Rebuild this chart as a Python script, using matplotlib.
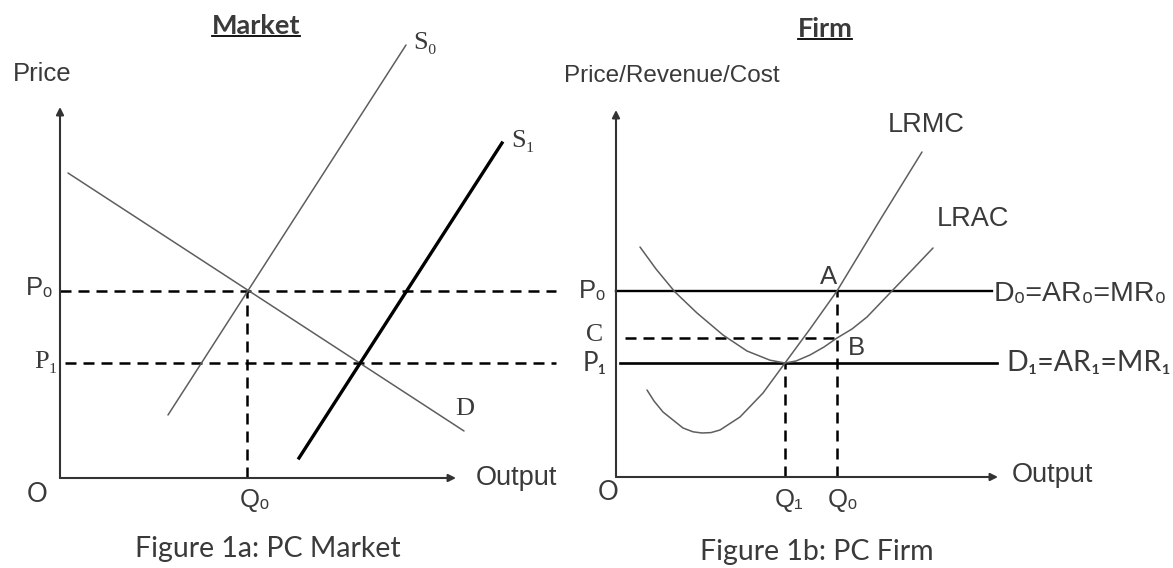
import matplotlib.pyplot as plt
from matplotlib.lines import Line2D

# Figure 1a: market
market_p = [4.675, 2.875]          # P0, P1
market_q0 = 4.675
supply0_x = [2.7, 8.65]
supply0_y = [1.575, 10.825]
supply1_x = [5.975, 11.05]
supply1_y = [0.5, 8.375]
demand_x = [0.2, 10.1]
demand_y = [7.625, 1.175]

# Figure 1b: firm
firm_p = [4.65, 2.85]              # P0, P1
firm_c = 3.475
firm_q = [5.525, 4.225]            # Q0, Q1
lrmc_x = [0.775, 0.95, 1.175, 1.675, 1.925, 2.15, 2.375, 2.6, 3.1, 3.675,
          4.225, 4.85, 5.525, 6.6, 7.65]
lrmc_y = [2.175, 1.9, 1.625, 1.225, 1.13, 1.1, 1.11, 1.175, 1.5, 2.1,
          2.85, 3.7, 4.65, 6.425, 8.125]
lrac_x = [0.6, 1.0, 1.475, 2.025, 2.675, 3.275, 3.85, 4.225, 4.5, 4.85,
          5.2, 5.525, 5.9, 6.275, 6.85, 7.425, 7.925]
lrac_y = [5.75, 5.2, 4.625, 4.1, 3.55, 3.15, 2.92, 2.85, 2.9, 3.05,
          3.25, 3.475, 3.7, 4.0, 4.6, 5.2, 5.725]

AXC = '#333333'
TXT = '#3a3a3a'
CURVE = '#5e5e5e'
SANS = ['Liberation Sans', 'DejaVu Sans']
SERIF = ['Liberation Serif', 'DejaVu Serif']
CAP = ['Lato', 'DejaVu Sans']
DASH = (4.4, 2.8)

PX = 40.0
fig = plt.figure(figsize=(11.73, 5.68), dpi=100)
ax1 = fig.add_axes([0, 0, 0.5, 1])
ax1.set_xlim(-60 / PX, (586.5 - 60) / PX)
ax1.set_ylim((478 - 568) / PX, 478 / PX)
ax2 = fig.add_axes([0.5, 0, 0.5, 1])
ax2.set_xlim((586.5 - 616) / PX, (1173 - 616) / PX)
ax2.set_ylim((477 - 568) / PX, 477 / PX)
for ax in (ax1, ax2):
    ax.axis('off')


def axes_arrows(ax, xmax, ymax):
    ap = dict(arrowstyle='-|>', lw=1.5, color=AXC, mutation_scale=11,
              shrinkA=0, shrinkB=0)
    ax.annotate('', xy=(0, ymax), xytext=(0, 0), arrowprops=ap)
    ax.annotate('', xy=(xmax, 0), xytext=(0, 0), arrowprops=ap)


def label(ax, x, y, s, ha='center', size=18.5, family=SANS, **kw):
    return ax.text(x, y, s, ha=ha, va='center', fontsize=size,
                   family=family, color=TXT, **kw)


def curve(ax, x, y, **kw):
    ax.plot(x, y, color=CURVE, lw=1.1, solid_joinstyle='round',
            solid_capstyle='round', **kw)


# ---- market ----
axes_arrows(ax1, 9.9, 9.275)
ax1.plot([0, 12.4], [market_p[0]] * 2, color='black', lw=1.8, dashes=DASH)
ax1.plot([0.125, 12.4], [market_p[1]] * 2, color='black', lw=1.8, dashes=DASH)
ax1.plot([market_q0] * 2, [0, market_p[0]], color='black', lw=1.8, dashes=DASH)
curve(ax1, demand_x, demand_y)
curve(ax1, supply0_x, supply0_y)
ax1.plot(supply1_x, supply1_y, color='black', lw=2.4)

label(ax1, -0.45, 10.1, 'Price')
t1 = label(ax1, 4.9, 11.3, 'Market', size=19.5, family=CAP, weight='bold')
label(ax1, 8.825, 10.875, 'S₀', ha='left', size=19, family=SERIF)
label(ax1, 11.275, 8.425, 'S₁', ha='left', size=19, family=SERIF)
label(ax1, 9.875, 1.725, 'D', ha='left', size=19, family=SERIF)
label(ax1, -0.15, 4.75, 'P₀', ha='right')
label(ax1, -0.05, 2.9, 'P₁', ha='right', size=19, family=SERIF)
label(ax1, -0.575, -0.425, 'O', family=CAP)
label(ax1, 4.875, -0.55, 'Q₀')
label(ax1, 10.4, 0.0, 'Output', ha='left', size=19.5)
label(ax1, 5.2, -1.775, 'Figure 1a: PC Market', size=20.5, family=CAP)

# ---- firm ----
axes_arrows(ax2, 9.55, 9.175)
ax2.plot([0, 9.4], [firm_p[0]] * 2, color='black', lw=1.7)
ax2.plot([0.1, 9.525], [firm_p[1]] * 2, color='black', lw=1.9)
ax2.plot([0.225, firm_q[0]], [firm_c] * 2, color='black', lw=1.8, dashes=DASH)
ax2.plot([firm_q[0]] * 2, [0, firm_p[0]], color='black', lw=1.8, dashes=DASH)
ax2.plot([firm_q[1]] * 2, [0, firm_p[1]], color='black', lw=1.8, dashes=DASH)
curve(ax2, lrmc_x, lrmc_y)
curve(ax2, lrac_x, lrac_y)

t2 = label(ax2, 5.225, 11.2, 'Firm', size=19.5, family=CAP, weight='bold')
label(ax2, 1.4, 10.025, 'Price/Revenue/Cost', size=17.5)
label(ax2, 7.75, 8.8, 'LRMC', size=19.5)
label(ax2, 8.925, 6.45, 'LRAC', size=19.5)
label(ax2, 5.325, 5.0, 'A')
label(ax2, 6.0, 3.225, 'B')
label(ax2, -0.525, 3.55, 'C', family=SERIF)
label(ax2, -0.225, firm_p[0], 'P₀', ha='right')
label(ax2, -0.225, firm_p[1], 'P₁', ha='right', family=CAP)
label(ax2, 9.45, 4.575, 'D₀=AR₀=MR₀', ha='left', size=20.5)
label(ax2, 9.75, 2.85, 'D₁=AR₁=MR₁', ha='left', size=20.5, family=CAP)
label(ax2, -0.2, -0.4, 'O', family=CAP)
label(ax2, 4.325, -0.575, 'Q₁')
label(ax2, 5.675, -0.575, 'Q₀')
label(ax2, 9.9, 0.05, 'Output', ha='left', size=19.5)
label(ax2, 5.025, -1.875, 'Figure 1b: PC Firm', size=20.5, family=CAP)

# underline the two headings
fig.canvas.draw()
r = fig.canvas.get_renderer()
W, H = fig.bbox.width, fig.bbox.height
for t in (t1, t2):
    bb = t.get_window_extent(r)
    yy = (bb.y0 + 2) / H
    fig.add_artist(Line2D([bb.x0 / W, bb.x1 / W], [yy, yy], color='black', lw=1.3))

fig.savefig('out.png', dpi=100)
